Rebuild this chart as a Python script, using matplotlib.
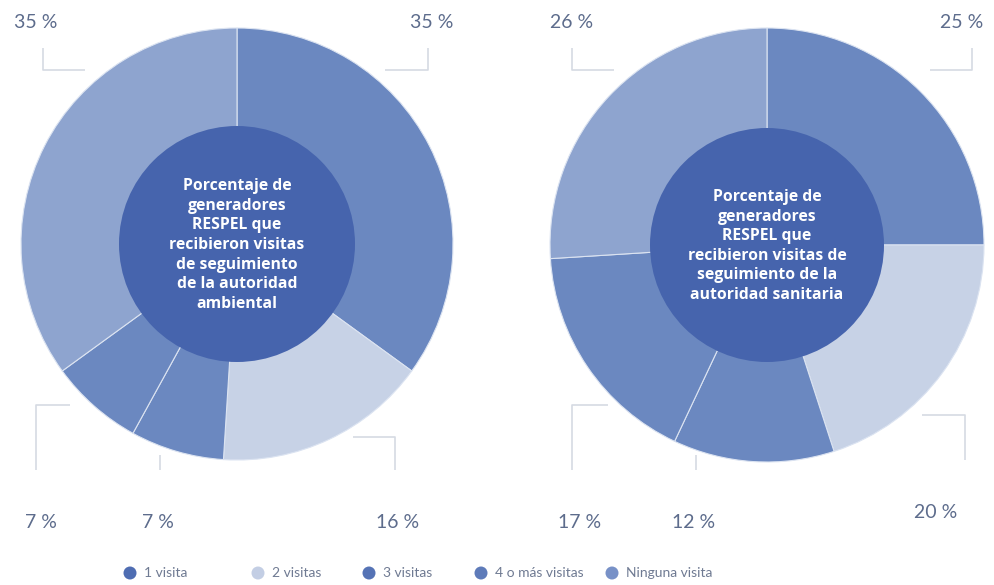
import matplotlib
matplotlib.use("Agg")
import matplotlib.pyplot as plt
from matplotlib.patches import Circle

# Data
categories = ["1 visita", "2 visitas", "3 visitas", "4 o más visitas", "Ninguna visita"]
ambiental = [35, 16, 7, 7, 35]
sanitaria = [25, 20, 12, 17, 26]
center_titles = [
    "Porcentaje de\ngeneradores\nRESPEL que\nrecibieron visitas\nde seguimiento\nde la autoridad\nambiental",
    "Porcentaje de\ngeneradores\nRESPEL que\nrecibieron visitas de\nseguimiento de la\nautoridad sanitaria",
]

wedge_colors = ["#6b88c0", "#c7d2e6", "#6b88c0", "#6b88c0", "#8ea4cf"]
legend_colors = ["#4f6db2", "#c3cee4", "#5573b5", "#5e7bb9", "#7891c7"]
center_color = "#4664ad"
label_color = "#5d6c8c"
line_color = "#d5dae3"

W, H = 995, 585
fig = plt.figure(figsize=(W / 100, H / 100), dpi=100)
ax = fig.add_axes([0, 0, 1, 1])

def py(y):
    return H - y

pies = [
    dict(values=ambiental, cx=237, cy=244, r=216, rin=118, title=center_titles[0]),
    dict(values=sanitaria, cx=767, cy=245, r=217, rin=117, title=center_titles[1]),
]

for p in pies:
    ax.pie(p["values"], colors=wedge_colors, startangle=90, counterclock=False,
           center=(p["cx"], py(p["cy"])), radius=p["r"], frame=True,
           wedgeprops=dict(edgecolor="#dbe3f1", linewidth=0.8))
    ax.add_patch(Circle((p["cx"], py(p["cy"])), p["rin"], facecolor=center_color,
                        edgecolor="none", zorder=3))
    ax.text(p["cx"], py(p["cy"]) - 1, p["title"], ha="center", va="center",
            color="white", fontsize=11.3, fontweight="bold", family="Open Sans",
            linespacing=1.3, zorder=4)

ax.set_xlim(0, W)
ax.set_ylim(0, H)
ax.set_aspect("equal")
ax.axis("off")

# Percentage labels with bracket-shaped leader lines
labels = [
    # value, text x, text y, leader path (pixel coords)
    (ambiental[4], 36, 22, [(43, 48), (43, 70), (85, 70)]),
    (ambiental[0], 432, 22, [(385, 70), (428, 70), (428, 48)]),
    (ambiental[3], 41, 523, [(70, 405), (36, 405), (36, 470)]),
    (ambiental[2], 158, 523, [(160, 455), (160, 470)]),
    (ambiental[1], 398, 523, [(353, 437), (395, 437), (395, 470)]),
    (sanitaria[4], 572, 22, [(572, 48), (572, 70), (614, 70)]),
    (sanitaria[0], 962, 22, [(930, 70), (972, 70), (972, 48)]),
    (sanitaria[3], 580, 523, [(608, 405), (572, 405), (572, 470)]),
    (sanitaria[2], 694, 523, [(696, 455), (696, 470)]),
    (sanitaria[1], 936, 512, [(922, 415), (965, 415), (965, 460)]),
]
for val, tx, ty, path in labels:
    ax.text(tx, py(ty), f"{val} %", ha="center", va="center", fontsize=14,
            color=label_color, family="Lato")
    xs = [q[0] for q in path]
    ys = [py(q[1]) for q in path]
    ax.plot(xs, ys, color=line_color, linewidth=1.2, solid_capstyle="butt")

# Legend
legend_x = [130, 258, 369, 481, 612]
for name, col, lx in zip(categories, legend_colors, legend_x):
    ax.add_patch(Circle((lx, py(573)), 6.5, facecolor=col, edgecolor="none"))
    ax.text(lx + 14, py(573), name, ha="left", va="center", fontsize=10,
            color="#6f7a92", family="Lato")

fig.savefig("out.png", dpi=100, facecolor="white")
